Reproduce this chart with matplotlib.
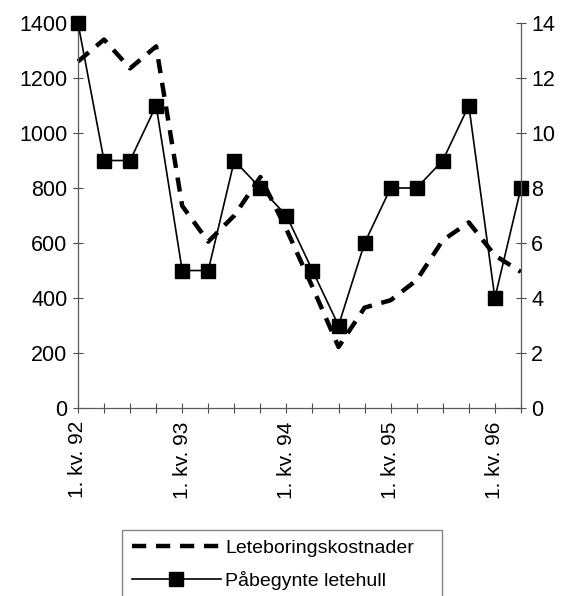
import matplotlib.pyplot as plt

plt.rcParams['font.family'] = ['Liberation Sans', 'DejaVu Sans']

# quarterly data 1992Q1 - 1996Q2
quarters = list(range(18))
year_labels = ['1. kv. 92', '1. kv. 93', '1. kv. 94', '1. kv. 95', '1. kv. 96']
kostnader = [1260, 1340, 1235, 1315, 735, 605, 700, 840, 650, 440,
             222, 365, 392, 465, 610, 675, 555, 495]
letehull = [14, 9, 9, 11, 5, 5, 9, 8, 7, 5, 3, 6, 8, 8, 9, 11, 4, 8]

fig = plt.figure(figsize=(5.65, 5.96), dpi=100)
ax = fig.add_axes([0.138, 0.3154, 0.784, 0.646])
ax2 = ax.twinx()

l1, = ax.plot(quarters, kostnader, color='black', lw=3.2, ls=(0, (3.2, 2.2)),
              clip_on=False, label='Leteboringskostnader')
l2, = ax2.plot(quarters, letehull, color='black', lw=1.2, marker='s', ms=10,
               clip_on=False, label='Påbegynte letehull')

ax.set_xlim(0, 17)
ax.set_ylim(0, 1400)
ax2.set_ylim(0, 14)
ax.set_yticks(range(0, 1401, 200))
ax2.set_yticks(range(0, 15, 2))
ax.set_xticks(quarters)
ax.set_xticklabels([year_labels[i // 4] if i % 4 == 0 else '' for i in quarters],
                   rotation=90)

for a in (ax, ax2):
    a.spines['top'].set_visible(False)
    for s in ('left', 'right', 'bottom'):
        a.spines[s].set_color('0.35')
        a.spines[s].set_linewidth(0.9)
    a.tick_params(direction='inout', length=7, width=0.8, color='0.3',
                  labelsize=15.5, pad=4)
ax.tick_params(axis='x', labelsize=15, pad=6)
ax.spines['right'].set_visible(False)
ax2.spines['left'].set_visible(False)
ax2.spines['bottom'].set_visible(False)

fig.legend(handles=[l1, l2], loc='upper left',
           bbox_to_anchor=(0.216, 0.0, 0.566, 0.111), mode='expand',
           fontsize=14, frameon=True, fancybox=False, edgecolor='0.4',
           borderaxespad=0, borderpad=0.5, handlelength=4.6,
           handletextpad=0.2, labelspacing=0.7, numpoints=1)

fig.savefig('out.png', dpi=100)
